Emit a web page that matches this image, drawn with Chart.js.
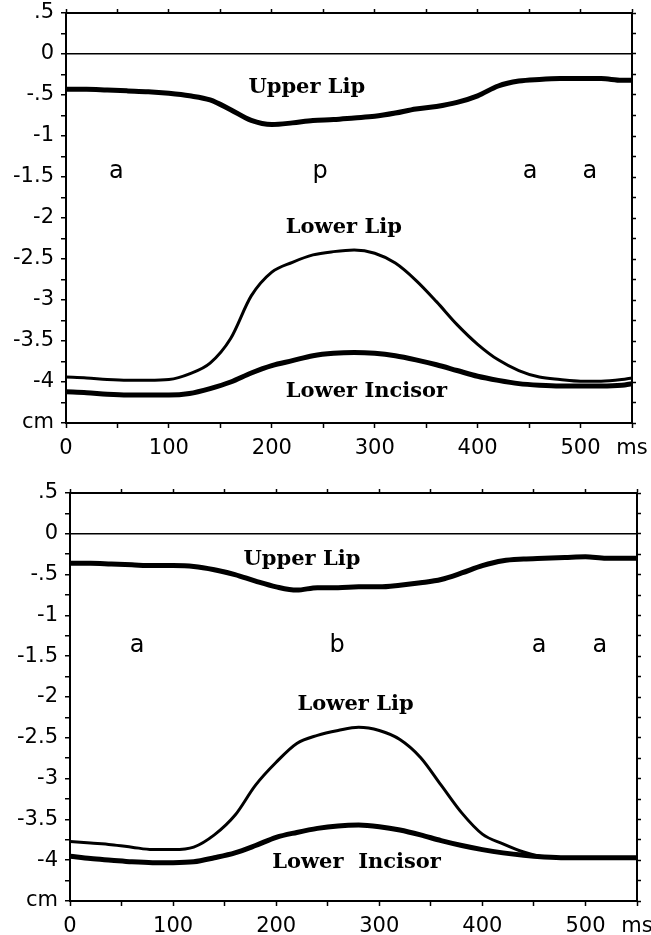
<!DOCTYPE html>
<html>
<head>
<meta charset="utf-8">
<script src="https://cdn.jsdelivr.net/npm/chart.js@4.4.1/dist/chart.umd.min.js"></script>
<style>
  html, body { margin: 0; padding: 0; background: #fff; }
  canvas { display: block; }
</style>
</head>
<body>
<canvas id="topChart" width="651" height="465"></canvas>
<canvas id="bottomChart" width="651" height="470"></canvas>
<script>
// time base (ms), shared by every trace
const timeMs = [0, 20, 40, 60, 80, 100, 120, 140, 160, 180, 200, 220, 240, 260, 280,
  300, 320, 340, 360, 380, 400, 420, 440, 460, 480, 500, 520, 540, 550];

// upper panel ("p")
const topUpperLip = [-0.43, -0.43, -0.44, -0.45, -0.46, -0.48, -0.51, -0.56, -0.68, -0.81, -0.86, -0.84, -0.81, -0.80, -0.78,
  -0.76, -0.72, -0.67, -0.64, -0.59, -0.51, -0.39, -0.33, -0.31, -0.30, -0.30, -0.30, -0.32, -0.32];
const topLowerLip = [-3.94, -3.95, -3.97, -3.98, -3.98, -3.97, -3.90, -3.77, -3.47, -2.95, -2.66, -2.54, -2.45, -2.41, -2.39,
  -2.43, -2.55, -2.76, -3.02, -3.30, -3.54, -3.73, -3.86, -3.94, -3.97, -3.99, -3.99, -3.97, -3.95];
const topLowerIncisor = [-4.12, -4.13, -4.15, -4.16, -4.16, -4.16, -4.14, -4.08, -4.00, -3.89, -3.80, -3.74, -3.68, -3.65, -3.64,
  -3.65, -3.68, -3.73, -3.79, -3.86, -3.93, -3.98, -4.02, -4.04, -4.05, -4.05, -4.05, -4.04, -4.02];

// lower panel ("b")
const botUpperLip = [-0.36, -0.36, -0.37, -0.38, -0.39, -0.39, -0.40, -0.44, -0.50, -0.58, -0.65, -0.69, -0.66, -0.66, -0.65,
  -0.65, -0.63, -0.60, -0.56, -0.48, -0.39, -0.33, -0.31, -0.30, -0.29, -0.28, -0.30, -0.30, -0.30];
const botLowerLip = [-3.77, -3.79, -3.81, -3.84, -3.87, -3.87, -3.84, -3.69, -3.45, -3.08, -2.80, -2.57, -2.47, -2.41, -2.37,
  -2.41, -2.52, -2.74, -3.08, -3.42, -3.68, -3.80, -3.90, -3.96, -3.97, -3.97, -3.97, -3.97, -3.97];
const botLowerIncisor = [-3.95, -3.98, -4.00, -4.02, -4.03, -4.03, -4.02, -3.97, -3.91, -3.82, -3.72, -3.66, -3.61, -3.58, -3.57,
  -3.59, -3.63, -3.69, -3.76, -3.82, -3.87, -3.91, -3.94, -3.96, -3.97, -3.97, -3.97, -3.97, -3.97];

// in-plot labels: text plus where they sit (ms, cm)
const topLabelText = ['Upper Lip', 'a', 'p', 'a', 'a', 'Lower Lip', 'Lower Incisor'];
const topLabelMs = [234, 49, 247, 451, 509, 270, 292];
const topLabelCm = [-0.48, -1.51, -1.51, -1.51, -1.51, -2.18, -4.18];

const botLabelText = ['Upper Lip', 'a', 'b', 'a', 'a', 'Lower Lip', 'Lower  Incisor'];
const botLabelMs = [225, 65, 259, 455, 514, 277, 278];
const botLabelCm = [-0.38, -1.45, -1.45, -1.45, -1.45, -2.16, -4.09];

// axis ranges / ticks
const xMin = 0, xMax = 550, xStep = 50;
const yMin = -4.5, yMax = 0.5, yStep = 0.25;
const xUnitLabel = 'ms';
const yUnitLabel = 'cm';

const tickFont = { family: '"DejaVu Sans", sans-serif', size: 21 };

const textPlugin = {
  id: 'panelText',
  afterDatasetsDraw(chart, args, opts) {
    const { ctx, scales } = chart;
    ctx.save();
    ctx.fillStyle = '#000';
    ctx.textAlign = 'center';
    ctx.textBaseline = 'alphabetic';
    opts.text.forEach((t, i) => {
      ctx.font = t.length > 1 ? 'bold 21px "DejaVu Serif", serif' : '24px "DejaVu Sans", sans-serif';
      ctx.fillText(t, scales.x.getPixelForValue(opts.ms[i]), scales.y.getPixelForValue(opts.cm[i]));
    });
    ctx.restore();
  }
};

function yLabel(v) {
  const r = Math.round(v * 100) / 100;
  if (Math.abs(r - yMin) < 1e-6) return yUnitLabel;
  if (Math.abs(r * 2 - Math.round(r * 2)) > 1e-6) return '';
  if (r === 0) return '0';
  if (r === 0.5) return '.5';
  if (r === -0.5) return '-.5';
  return String(r);
}

function xLabel(v) {
  if (v === xMax) return xUnitLabel;
  if (v % 100 === 0) return String(v);
  return '';
}

function toPoints(vals) {
  return timeMs.map((t, i) => ({ x: t, y: vals[i] }));
}

// fixed box sizes, and no extra room asked for by edge labels
function fixSize(s, key, size) {
  s[key] = size;
  s.paddingLeft = 0;
  s.paddingRight = 0;
  s.paddingTop = 0;
  s.paddingBottom = 0;
}

function makePanel(canvasId, upper, lower, incisor, labelText, labelMs, labelCm, box) {
  const ctx = document.getElementById(canvasId).getContext('2d');
  const lineBase = { borderColor: '#000', pointRadius: 0, fill: false, cubicInterpolationMode: 'monotone' };
  return new Chart(ctx, {
    type: 'line',
    data: {
      datasets: [
        Object.assign({ label: 'Upper Lip', data: toPoints(upper), borderWidth: 5 }, lineBase),
        Object.assign({ label: 'Lower Lip', data: toPoints(lower), borderWidth: 3 }, lineBase),
        Object.assign({ label: 'Lower Incisor', data: toPoints(incisor), borderWidth: 5 }, lineBase)
      ]
    },
    options: {
      responsive: false,
      animation: false,
      devicePixelRatio: 1,
      layout: { padding: 0 },
      plugins: {
        legend: { display: false },
        tooltip: { enabled: false },
        panelText: { text: labelText, ms: labelMs, cm: labelCm }
      },
      scales: {
        x: {
          type: 'linear', position: 'bottom', min: xMin, max: xMax,
          afterFit: (s) => fixSize(s, 'height', box.bottom),
          grid: { color: 'rgba(0,0,0,0)', tickColor: '#000', tickLength: 5, tickWidth: 1.5 },
          border: { display: true, color: '#000', width: 2 },
          ticks: { stepSize: xStep, autoSkip: false, maxRotation: 0, padding: 8, color: '#000', font: tickFont, callback: xLabel }
        },
        x2: {
          type: 'linear', position: 'top', min: xMin, max: xMax,
          afterFit: (s) => fixSize(s, 'height', box.top),
          grid: { drawOnChartArea: false, tickColor: '#000', tickLength: 4, tickWidth: 1.5 },
          border: { display: true, color: '#000', width: 2 },
          ticks: { stepSize: xStep, display: false }
        },
        y: {
          type: 'linear', position: 'left', min: yMin, max: yMax,
          afterFit: (s) => fixSize(s, 'width', box.left),
          grid: {
            color: (c) => (c.tick && Math.abs(c.tick.value) < 1e-6 ? '#000' : 'rgba(0,0,0,0)'),
            lineWidth: 1.5, tickColor: '#000', tickLength: 5, tickWidth: 1.5
          },
          border: { display: true, color: '#000', width: 2 },
          ticks: { stepSize: yStep, autoSkip: false, padding: 7, color: '#000', font: tickFont, callback: yLabel }
        },
        y2: {
          type: 'linear', position: 'right', min: yMin, max: yMax,
          afterFit: (s) => fixSize(s, 'width', box.right),
          grid: { drawOnChartArea: false, tickColor: '#000', tickLength: 4, tickWidth: 1.5 },
          border: { display: true, color: '#000', width: 2 },
          ticks: { stepSize: yStep, display: false }
        }
      }
    },
    plugins: [textPlugin]
  });
}

makePanel('topChart', topUpperLip, topLowerLip, topLowerIncisor, topLabelText, topLabelMs, topLabelCm,
  { left: 66, right: 19, top: 13, bottom: 42 });
makePanel('bottomChart', botUpperLip, botLowerLip, botLowerIncisor, botLabelText, botLabelMs, botLabelCm,
  { left: 70, right: 14, top: 28, bottom: 34 });
</script>
</body>
</html>
